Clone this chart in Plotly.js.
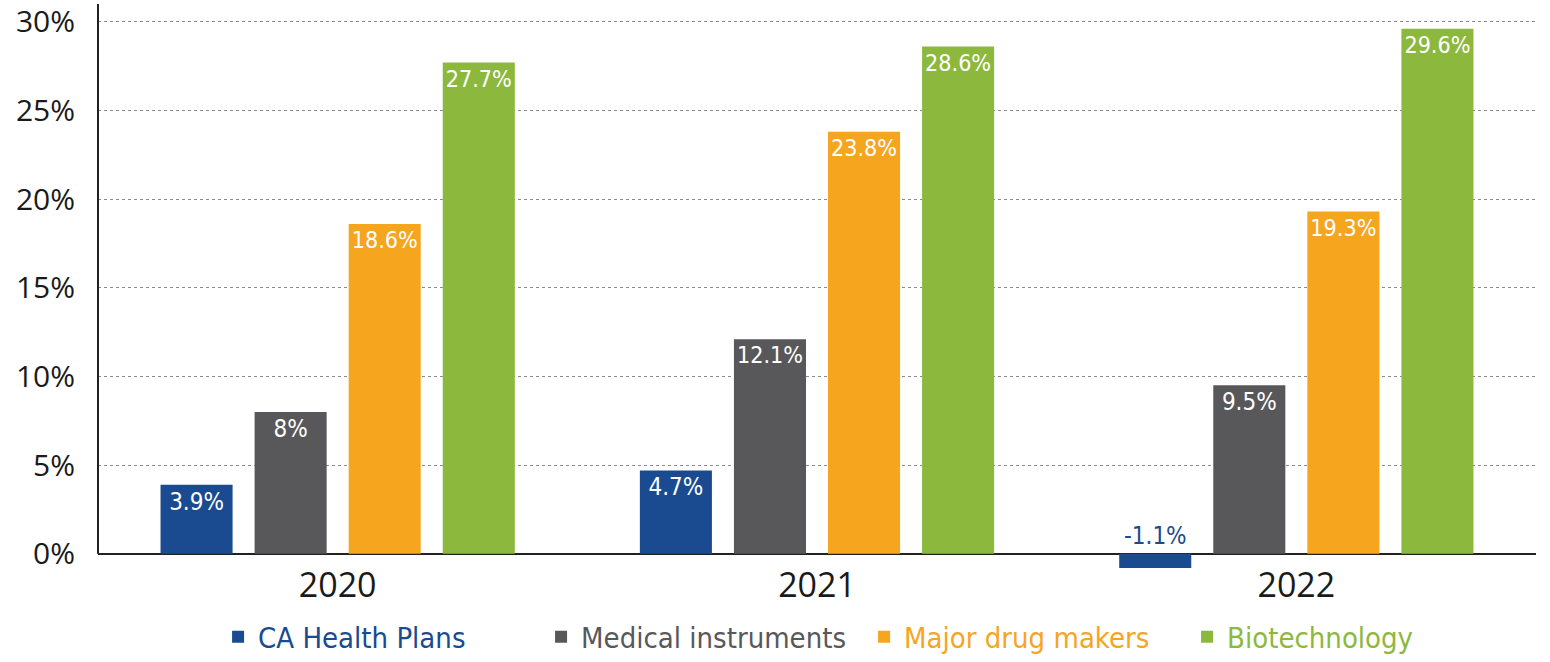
<!DOCTYPE html>
<html><head><meta charset="utf-8">
<script src="https://cdn.plot.ly/plotly-3.0.1.min.js"></script>
<style>body{margin:0;background:#fff}#chart{width:1550px;height:662px}</style>
</head><body><div id="chart"></div>
<script>
const years = ['2020', '2021', '2022'];
const seriesNames = ['CA Health Plans', 'Medical instruments', 'Major drug makers', 'Biotechnology'];
const caHealthPlans = [3.9, 4.7, -1.1];
const medicalInstruments = [8, 12.1, 9.5];
const majorDrugMakers = [18.6, 23.8, 19.3];
const biotechnology = [27.7, 28.6, 29.6];
const yTicks = [0, 5, 10, 15, 20, 25, 30];

const colors = ['#1a4b90', '#58585a', '#f6a51f', '#8db83e'];
const allSeries = [caHealthPlans, medicalInstruments, majorDrugMakers, biotechnology];
const labelFont = "'Liberation Sans Narrow', 'DejaVu Sans Condensed', 'Roboto Condensed', sans-serif";

const traces = allSeries.map((vals, i) => ({
  type: 'bar',
  x: years,
  y: vals,
  name: '<span style="color:' + colors[i] + '">' + seriesNames[i] + '</span>',
  marker: {color: colors[i]},
  text: vals.map(v => v + '%'),
  texttemplate: vals.map(v => v < 0 ? '' : '%{text}'),
  textposition: 'inside',
  insidetextanchor: 'end',
  textangle: 0,
  textfont: {family: labelFont, size: 24, color: '#ffffff'},
  hoverinfo: 'skip'
}));

// labels for negative values sit just above the zero line
const annotations = [];
const slot = 94;
allSeries.forEach((vals, i) => {
  vals.forEach((v, j) => {
    if (v < 0) {
      annotations.push({
        x: j, y: 0, xref: 'x', yref: 'y', text: v + '%', showarrow: false,
        yanchor: 'bottom', xshift: (i - 1.5) * slot, yshift: 2,
        font: {family: labelFont, size: 24, color: colors[i]}
      });
    }
  });
});

const layout = {
  width: 1550, height: 662,
  margin: {l: 98, r: 14, t: 4, b: 94, autoexpand: false},
  paper_bgcolor: '#ffffff', plot_bgcolor: '#ffffff',
  barmode: 'group', bargap: 0.215, bargroupgap: 0.234,
  showlegend: true,
  legend: {orientation: 'h', x: 0.0835, xanchor: 'left', yref: 'container', y: 0.038, yanchor: 'middle',
           bgcolor: 'rgba(0,0,0,0)',
           font: {family: labelFont, size: 29, color: '#333'}, itemwidth: 30,
           entrywidth: 278, entrywidthmode: 'pixels', traceorder: 'normal'},
  xaxis: {type: 'category', tickfont: {family: "'Open Sans', sans-serif", size: 34, color: '#1a1a1a'},
          showgrid: false, showline: false, ticks: '', range: [-0.5, 2.5], automargin: false,
          ticklabelstandoff: -6},
  yaxis: {range: [-0.8, 31], tickvals: yTicks, ticktext: yTicks.map(t => t + '%'),
          tickfont: {family: "'Open Sans', sans-serif", size: 30, color: '#1a1a1a'},
          showgrid: true, gridcolor: '#8a8a8a', griddash: 'dot', gridwidth: 1,
          zeroline: true, zerolinecolor: '#222', zerolinewidth: 2,
          showline: false, ticks: '', ticklabelstandoff: 22, automargin: false},
  shapes: [{type: 'line', xref: 'paper', yref: 'y', x0: 0, x1: 0, y0: 0, y1: 31,
            line: {color: '#222', width: 2}}],
  annotations: annotations,
  font: {family: "'Open Sans', sans-serif"}
};

Plotly.newPlot('chart', traces, layout, {displayModeBar: false, staticPlot: true});
</script></body></html>
